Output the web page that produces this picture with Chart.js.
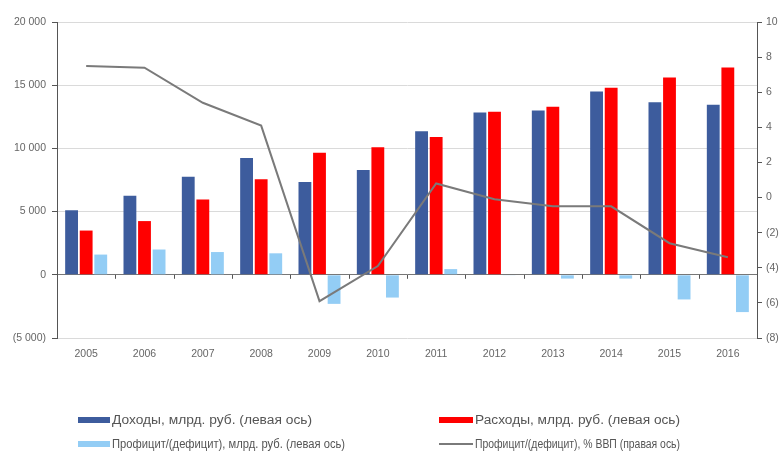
<!DOCTYPE html>
<html lang="ru">
<head>
    <meta charset="UTF-8">
    <title>Бюджет: доходы, расходы, профицит</title>
    <style>
        body { margin: 0; background: #fff; font-family: 'Liberation Sans', Arial, sans-serif; }
        #wrap { position: relative; width: 779px; height: 469px; }
        #budgetChart { position: absolute; left: 0; top: 0; }
        .legend-item { position: absolute; font-size: 12px; color: #555; white-space: nowrap; line-height: 14px; }
        .legend-item .swatch { position: absolute; top: 4px; height: 6px; }
        .legend-item .swatch.line { top: 6px; height: 2px; }
        .legend-item .text { display: inline-block; transform-origin: 0 50%; }
    </style>
</head>
<body>

<div id="wrap">
    <canvas id="budgetChart" width="779" height="469"></canvas>
    <div id="legend"></div>
</div>

<script src="https://cdn.jsdelivr.net/npm/chart.js"></script>
<script>
  const years = ['2005', '2006', '2007', '2008', '2009', '2010', '2011', '2012', '2013', '2014', '2015', '2016'];
  // млрд. руб.
  const revenue = [5100, 6250, 7750, 9250, 7350, 8300, 11350, 12850, 13000, 14500, 13650, 13450];
  const spending = [3500, 4250, 5950, 7550, 9650, 10100, 10900, 12900, 13300, 14800, 15600, 16400];
  const balance = [1600, 2000, 1800, 1700, -2300, -1800, 450, -50, -300, -300, -1950, -2950];
  // % ВВП
  const balancePct = [7.5, 7.4, 5.4, 4.1, -5.9, -3.9, 0.8, -0.1, -0.5, -0.5, -2.6, -3.4];

  const leftTicks = [-5000, 0, 5000, 10000, 15000, 20000];
  const rightTicks = [-8, -6, -4, -2, 0, 2, 4, 6, 8, 10];

  const labelRevenue = 'Доходы, млрд. руб. (левая ось)';
  const labelSpending = 'Расходы, млрд. руб. (левая ось)';
  const labelBalance = 'Профицит/(дефицит), млрд. руб. (левая ось)';
  const labelBalancePct = 'Профицит/(дефицит), % ВВП (правая ось)';

  function fmtThousands(v) {
    const s = Math.abs(v).toString().replace(/\B(?=(\d{3})+(?!\d))/g, ' ');
    return v < 0 ? '(' + s + ')' : s;
  }
  function fmtPct(v) {
    return v < 0 ? '(' + Math.abs(v) + ')' : String(v);
  }

  // small tick marks on the zero line between categories
  const zeroTicks = {
    id: 'zeroTicks',
    afterDatasetsDraw(chart) {
      const { ctx, chartArea, scales } = chart;
      const y0 = scales.y.getPixelForValue(0);
      const step = (chartArea.right - chartArea.left) / years.length;
      ctx.save();
      ctx.strokeStyle = '#555';
      ctx.lineWidth = 1;
      ctx.beginPath();
      for (let i = 1; i < years.length; i++) {
        const x = Math.round(chartArea.left + i * step) + 0.5;
        ctx.moveTo(x, y0);
        ctx.lineTo(x, y0 + 4);
      }
      ctx.stroke();
      ctx.restore();
    }
  };

  const tickFont = { family: "'Liberation Sans', Arial, sans-serif", size: 10.5 };

  const chart = new Chart(document.getElementById('budgetChart'), {
    data: {
      labels: years,
      datasets: [
        {
          type: 'line',
          label: labelBalancePct,
          data: balancePct,
          yAxisID: 'y1',
          borderColor: '#7a7a7a',
          borderWidth: 2,
          pointRadius: 0,
          tension: 0,
          order: 0
        },
        {
          type: 'bar',
          label: labelRevenue,
          data: revenue,
          yAxisID: 'y',
          backgroundColor: '#3D5C9D',
          categoryPercentage: 0.75,
          barPercentage: 0.88,
          order: 1
        },
        {
          type: 'bar',
          label: labelSpending,
          data: spending,
          yAxisID: 'y',
          backgroundColor: '#FF0000',
          categoryPercentage: 0.75,
          barPercentage: 0.88,
          order: 1
        },
        {
          type: 'bar',
          label: labelBalance,
          data: balance,
          yAxisID: 'y',
          backgroundColor: '#93CDF5',
          categoryPercentage: 0.75,
          barPercentage: 0.88,
          order: 1
        }
      ]
    },
    options: {
      responsive: false,
      animation: false,
      layout: { padding: { top: 22, left: 0, right: 0, bottom: 0 } },
      plugins: {
        legend: { display: false },
        tooltip: { enabled: false }
      },
      scales: {
        x: {
          grid: { display: false },
          border: { display: false },
          ticks: { color: '#666', font: tickFont, padding: 2, maxRotation: 0 },
          afterFit(scale) { scale.height = 131; }
        },
        y: {
          position: 'left',
          min: -5000,
          max: 20000,
          afterBuildTicks(scale) { scale.ticks = leftTicks.map(v => ({ value: v })); },
          ticks: { color: '#666', font: tickFont, padding: 6, callback: v => fmtThousands(v) },
          grid: {
            color: ctx => ctx.tick && ctx.tick.value === 0 ? '#777' : '#dadada',
            tickColor: '#555',
            tickLength: 5,
            drawTicks: true
          },
          border: { display: true, color: '#555' },
          afterFit(scale) { scale.width = 57; }
        },
        y1: {
          position: 'right',
          min: -8,
          max: 10,
          afterBuildTicks(scale) { scale.ticks = rightTicks.map(v => ({ value: v })); },
          ticks: { color: '#666', font: tickFont, padding: 4, callback: v => fmtPct(v) },
          grid: { drawOnChartArea: false, tickColor: '#555', tickLength: 5 },
          border: { display: true, color: '#555' },
          afterFit(scale) { scale.width = 22; }
        }
      }
    },
    plugins: [zeroTicks]
  });

  // legend in two columns under the chart; textW is the width each label is fitted to
  const legendSpots = [
    { ds: 1, x: 78, y: 413, w: 32, textW: 200, kind: 'box' },
    { ds: 2, x: 439, y: 413, w: 34, textW: 205, kind: 'box' },
    { ds: 3, x: 78, y: 437, w: 32, textW: 233, kind: 'box' },
    { ds: 0, x: 439, y: 437, w: 34, textW: 205, kind: 'line' }
  ];
  const legendEl = document.getElementById('legend');
  legendSpots.forEach(spot => {
    const ds = chart.data.datasets[spot.ds];
    const item = document.createElement('div');
    item.className = 'legend-item';
    item.style.left = spot.x + 'px';
    item.style.top = spot.y + 'px';
    item.style.paddingLeft = (spot.w + 2) + 'px';
    const sw = document.createElement('span');
    sw.className = 'swatch' + (spot.kind === 'line' ? ' line' : '');
    sw.style.left = '0px';
    sw.style.width = spot.w + 'px';
    sw.style.background = spot.kind === 'line' ? ds.borderColor : ds.backgroundColor;
    item.appendChild(sw);
    const txt = document.createElement('span');
    txt.className = 'text';
    txt.textContent = ds.label;
    item.appendChild(txt);
    legendEl.appendChild(item);
    const natural = txt.getBoundingClientRect().width;
    txt.style.transform = 'scaleX(' + (spot.textW / natural).toFixed(3) + ')';
  });
</script>

</body>
</html>
